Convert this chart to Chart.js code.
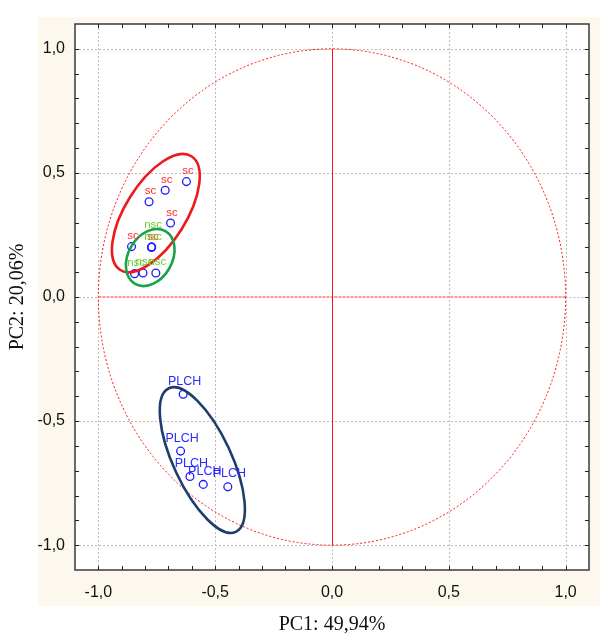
<!DOCTYPE html>
<html><head><meta charset="utf-8">
<script src="https://cdn.jsdelivr.net/npm/chart.js@4"></script>
<style>html,body{margin:0;padding:0;background:#fff}</style>
</head><body>
<canvas id="c" width="600" height="643"></canvas>
<script>
// ---- data ----
const scX = [-0.623, -0.714, -0.783, -0.691, -0.858, -0.773];
const scY = [0.465, 0.430, 0.384, 0.298, 0.203, 0.200];
const nscX = [-0.772, -0.772, -0.845, -0.809, -0.754];
const nscY = [0.201, 0.201, 0.094, 0.097, 0.097];
const plchX = [-0.637, -0.648, -0.608, -0.551, -0.446];
const plchY = [-0.392, -0.621, -0.723, -0.755, -0.765];
const groupNames = ['sc', 'nsc', 'PLCH'];
const tickValues = [-1.0, -0.5, 0.0, 0.5, 1.0];
const xTitle = 'PC1: 49,94%';
const yTitle = 'PC2: 20,06%';
// ellipses: centre x, centre y (data), semi-axes (x-units), rotation (deg)
const ellCx = [-0.754, -0.778, -0.555];
const ellCy = [0.338, 0.159, -0.657];
const ellA = [0.287, 0.130, 0.339];
const ellB = [0.130, 0.094, 0.124];
const ellRot = [-58, -60, 65];
const ellColors = ['#ee1a1a', '#17a347', '#1f3d6b'];
const labelColors = ['#ff2a2a', '#6ccc30', '#2b2bff'];

const toPts = (xs, ys) => xs.map((x, i) => ({x, y: ys[i]}));
const fmt = v => v.toFixed(1).replace('.', ',');

const bgPlugin = {
  id: 'bg',
  beforeDraw(chart) {
    const {ctx, chartArea: a} = chart;
    ctx.save();
    ctx.fillStyle = '#fcf8ee';
    ctx.fillRect(38, 17, 562, 589);
    ctx.fillStyle = '#ffffff';
    ctx.fillRect(a.left, a.top, a.right - a.left, a.bottom - a.top);
    ctx.restore();
  }
};

const refPlugin = {
  id: 'ref',
  beforeDatasetsDraw(chart) {
    const {ctx, scales: {x, y}, chartArea: a} = chart;
    ctx.save();
    const cx = x.getPixelForValue(0), cy = y.getPixelForValue(0);
    const xm1 = x.getPixelForValue(-1), xp1 = x.getPixelForValue(1);
    const ym1 = y.getPixelForValue(-1), yp1 = y.getPixelForValue(1);
    // dotted grid at labelled ticks (zero lines only outside the red axes)
    ctx.strokeStyle = '#bdbdbd';
    ctx.lineWidth = 1;
    ctx.setLineDash([2, 2]);
    ctx.beginPath();
    tickValues.forEach(v => {
      const px = Math.round(x.getPixelForValue(v)) + 0.5;
      const py = Math.round(y.getPixelForValue(v)) + 0.5;
      if (v === 0) {
        ctx.moveTo(px, a.top); ctx.lineTo(px, yp1);
        ctx.moveTo(px, ym1); ctx.lineTo(px, a.bottom);
        ctx.moveTo(a.left, py); ctx.lineTo(xm1, py);
        ctx.moveTo(xp1, py); ctx.lineTo(a.right, py);
      } else {
        ctx.moveTo(px, a.top); ctx.lineTo(px, a.bottom);
        ctx.moveTo(a.left, py); ctx.lineTo(a.right, py);
      }
    });
    ctx.stroke();
    // unit circle
    const rx = xp1 - cx, ry = cy - yp1;
    ctx.strokeStyle = '#ff1010';
    ctx.setLineDash([2, 2]);
    ctx.beginPath();
    ctx.ellipse(cx, cy, rx, ry, 0, 0, Math.PI * 2);
    ctx.stroke();
    const cxs = Math.round(cx) + 0.5;
    // horizontal axis line (fine dashes)
    ctx.strokeStyle = '#ff3030';
    ctx.setLineDash([3, 1]);
    ctx.beginPath();
    ctx.moveTo(xm1, Math.round(cy)); ctx.lineTo(xp1, Math.round(cy));
    ctx.stroke();
    // vertical axis line (solid)
    ctx.strokeStyle = '#ff1010';
    ctx.setLineDash([]);
    ctx.beginPath();
    ctx.moveTo(cxs, ym1); ctx.lineTo(cxs, yp1);
    ctx.stroke();
    ctx.restore();
  },
  afterDatasetsDraw(chart) {
    const {ctx, scales: {x, y}, chartArea: a} = chart;
    ctx.save();
    // ellipses
    const ux = x.getPixelForValue(1) - x.getPixelForValue(0);
    ellCx.forEach((c, i) => {
      ctx.strokeStyle = ellColors[i];
      ctx.lineWidth = 2.6;
      ctx.beginPath();
      ctx.ellipse(x.getPixelForValue(c), y.getPixelForValue(ellCy[i]), ellA[i] * ux, ellB[i] * ux, ellRot[i] * Math.PI / 180, 0, Math.PI * 2);
      ctx.stroke();
    });
    // point labels (stack labels of coincident points)
    const placed = [];
    chart.data.datasets.forEach((ds, di) => {
      const meta = chart.getDatasetMeta(di);
      ctx.fillStyle = labelColors[di];
      ctx.font = di === 2 ? '12.5px "Liberation Sans", Arial, sans-serif' : '11.5px "Liberation Sans", Arial, sans-serif';
      ctx.textAlign = 'center';
      ctx.textBaseline = 'alphabetic';
      const off = di === 2 ? 9.5 : 7.5;
      meta.data.forEach(pt => {
        let ly = pt.y - off;
        while (placed.some(p => p.t === ds.label && Math.abs(p.x - pt.x) < 3 && Math.abs(p.y - ly) < 3)) ly -= 12;
        placed.push({t: ds.label, x: pt.x, y: ly});
        ctx.fillText(ds.label, pt.x + 1.5, ly);
      });
    });
    // frame
    ctx.strokeStyle = '#3a3a3a';
    ctx.lineWidth = 1.5;
    ctx.strokeRect(a.left, a.top, a.right - a.left, a.bottom - a.top);
    // inward minor ticks
    ctx.lineWidth = 1;
    ctx.strokeStyle = '#222';
    ctx.beginPath();
    for (let k = -10; k <= 10; k++) {
      const v = k / 10;
      const px = Math.round(x.getPixelForValue(v)) + 0.5;
      const py = Math.round(y.getPixelForValue(v)) + 0.5;
      ctx.moveTo(px, a.bottom); ctx.lineTo(px, a.bottom - 4);
      ctx.moveTo(px, a.top); ctx.lineTo(px, a.top + 4);
      ctx.moveTo(a.left, py); ctx.lineTo(a.left + 4, py);
      ctx.moveTo(a.right, py); ctx.lineTo(a.right - 4, py);
    }
    ctx.stroke();
    ctx.restore();
  }
};

const pointStyle = {
  pointStyle: 'circle', pointRadius: 3.9, pointBorderWidth: 1.3,
  pointBorderColor: '#1a1aff', pointBackgroundColor: 'rgba(255,255,255,0)',
  showLine: false
};

const gridOpts = {display: false, drawTicks: false};
const tickFont = {family: '"Liberation Sans", Arial, sans-serif', size: 16};
const titleFont = {family: '"Liberation Serif", "Times New Roman", serif', size: 20};

new Chart(document.getElementById('c'), {
  type: 'scatter',
  data: {
    datasets: [
      Object.assign({label: groupNames[0], data: toPts(scX, scY)}, pointStyle),
      Object.assign({label: groupNames[1], data: toPts(nscX, nscY)}, pointStyle),
      Object.assign({label: groupNames[2], data: toPts(plchX, plchY)}, pointStyle)
    ]
  },
  options: {
    responsive: false,
    animation: false,
    layout: {padding: {top: 24, right: 11, left: 0, bottom: 0}},
    plugins: {legend: {display: false}, tooltip: {enabled: false}},
    scales: {
      x: {
        type: 'linear', min: -1.1, max: 1.1,
        afterBuildTicks: s => { s.ticks = tickValues.map(v => ({value: v})); },
        afterFit: s => { s.height = 73; },
        grid: gridOpts,
        border: {display: false},
        ticks: {font: tickFont, color: '#111', padding: 13, maxRotation: 0, callback: v => fmt(v)},
        title: {display: true, text: xTitle, font: titleFont, color: '#111', padding: {top: 0, bottom: 6}}
      },
      y: {
        type: 'linear', min: -1.1, max: 1.1,
        afterBuildTicks: s => { s.ticks = tickValues.map(v => ({value: v})); },
        afterFit: s => { s.width = 75; },
        grid: gridOpts,
        border: {display: false},
        ticks: {font: tickFont, color: '#111', padding: 10, callback: v => fmt(v)},
        title: {display: true, text: yTitle, font: titleFont, color: '#111', padding: {top: 6, bottom: 0}}
      }
    }
  },
  plugins: [bgPlugin, refPlugin]
});
</script>
</body></html>
